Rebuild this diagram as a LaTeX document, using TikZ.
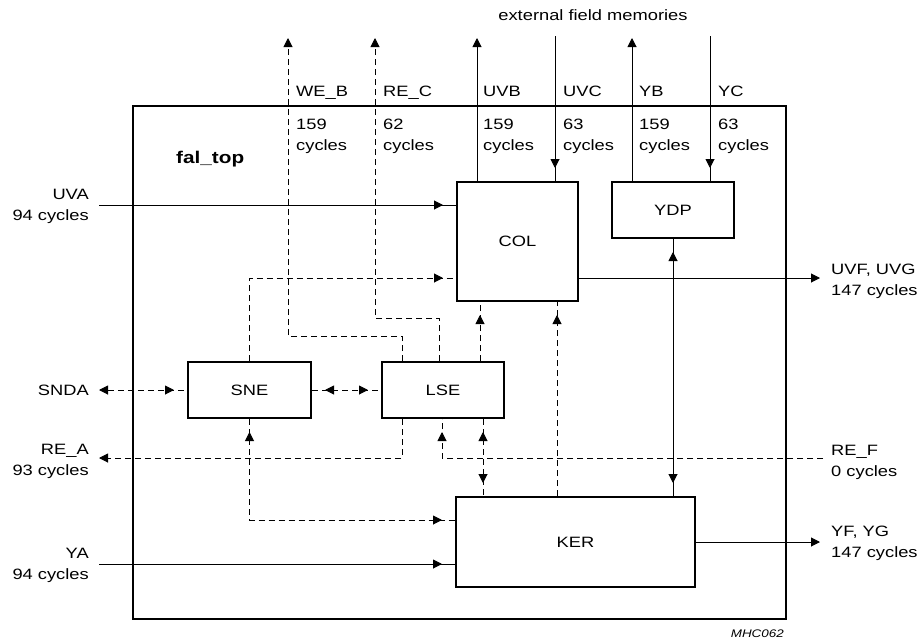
\documentclass[tikz,border=0pt]{standalone}
\usepackage{fontspec}
\setmainfont{Liberation Sans}[FakeStretch=1.22]
\usetikzlibrary{arrows.meta,decorations.markings}
\begin{document}
\begin{tikzpicture}[x=1pt,y=-1pt,
  every node/.style={font=\fontsize{15pt}{21pt}\selectfont, inner sep=0pt},
  blk/.style={draw, line width=2pt, minimum width=#1},
  conn/.style={line width=1pt},
  dsh/.style={line width=1pt, dash pattern=on 6pt off 4pt},
  endarrow/.style={-{Triangle[length=9pt,width=9pt]}},
  startarrow/.style={{Triangle[length=9pt,width=9pt]}-},
  tipend/.style={postaction={decorate,decoration={markings,
     mark=at position -13pt with {\arrow{Triangle[length=9pt,width=9pt]}}}}},
  tipstart/.style={postaction={decorate,decoration={markings,
     mark=at position 13pt with {\arrowreversed{Triangle[length=9pt,width=9pt]}}}}},
  lab/.style={align=left, anchor=base west},
  labr/.style={align=right, anchor=base east}
]
\useasboundingbox (0,0) rectangle (924,643);

% outer frame
\node[blk=653pt, minimum height=513pt] (outer) at (459.5,362.5) {};
\node[font=\fontsize{17pt}{21pt}\selectfont\bfseries, anchor=base west] (title) at (176,163) {fal\_top};

% blocks
\node[blk=121pt, minimum height=119pt] (COL) at (517.5,241.5) {COL};
\node[blk=122pt, minimum height=56pt]  (YDP) at (673,210) {YDP};
\node[blk=123pt, minimum height=56pt]  (SNE) at (249.5,390) {SNE};
\node[blk=122pt, minimum height=56pt]  (LSE) at (443,390) {LSE};
\node[blk=239pt, minimum height=90pt]  (KER) at (575.5,542) {KER};

% free ends / helper coordinates
\coordinate (webtop) at (288,38);
\coordinate (wex) at (402,0);
\coordinate (rectop) at (375,38);
\coordinate (recx) at (439,0);
\coordinate (uvbtop) at (477,38);
\coordinate (uvctop) at (555,36);
\coordinate (ybtop) at (632,38);
\coordinate (yctop) at (710,36);
\coordinate (uvain) at (99,205);
\coordinate (c278) at (0,278);
\coordinate (uvfout) at (820,278);
\coordinate (sndaend) at (99,390);
\coordinate (reaend) at (99,458);
\coordinate (c520) at (0,520);
\coordinate (yain) at (99,564);
\coordinate (refin) at (823,458);
\coordinate (lsex) at (442,0);
\coordinate (c483) at (483,0);
\coordinate (c480) at (480,0);
\coordinate (c557) at (557,0);
\coordinate (yfout) at (820,542);

% top signals
\draw[conn, endarrow] (COL.north -| uvbtop) -- (uvbtop);
\draw[conn, tipend] (uvctop) -- (COL.north -| uvctop);
\draw[conn, endarrow] (YDP.north -| ybtop) -- (ybtop);
\draw[conn, tipend] (yctop) -- (YDP.north -| yctop);
\draw[dsh, endarrow] (LSE.north -| wex) -- ++(0,-25) -| (webtop);
\draw[dsh, endarrow] (LSE.north -| recx) -- ++(0,-43) -| (rectop);

% inputs / internal
\draw[conn, tipend] (uvain) -- (COL.west |- uvain);
\draw[dsh, tipend] (SNE.north) |- (COL.west |- c278);
\draw[conn, endarrow] (COL.east |- uvfout) -- (uvfout);
\draw[dsh, startarrow, tipend] (sndaend) -- (SNE.west);
\draw[dsh, tipstart, tipend] (SNE.east) -- (LSE.west);
\draw[dsh, endarrow] (LSE.south -| wex) |- (reaend);
\draw[dsh, tipstart, tipend] (SNE.south) |- (KER.west |- c520);
\draw[conn, tipend] (yain) -- (KER.west |- yain);
\draw[dsh, tipend] (refin) -| (LSE.south -| lsex);
\draw[dsh, tipstart, tipend] (LSE.south -| c483) -- (KER.north -| c483);
\draw[dsh, tipend] (LSE.north -| c480) -- (COL.south -| c480);
\draw[dsh, tipend] (KER.north -| c557) -- (COL.south -| c557);
\draw[conn, tipstart, tipend] (YDP.south) -- (KER.north -| YDP.south);
\draw[conn, endarrow] (KER.east) -- (yfout);

% labels
\node (ext) at (593,15) {external field memories};
\node[lab] (lweb) at (296,96) {WE\_B};
\node[lab] (lrec) at (383,96) {RE\_C};
\node[lab] (luvb) at (483,96) {UVB};
\node[lab] (luvc) at (563,96) {UVC};
\node[lab] (lyb)  at (639,96) {YB};
\node[lab] (lyc)  at (718,96) {YC};
\node[lab] (cweb) at (296,150) {159\\cycles};
\node[lab] (crec) at (383,150) {62\\cycles};
\node[lab] (cuvb) at (483,150) {159\\cycles};
\node[lab] (cuvc) at (563,150) {63\\cycles};
\node[lab] (cyb)  at (639,150) {159\\cycles};
\node[lab] (cyc)  at (718,150) {63\\cycles};

\node[labr] (luva) at (89,220) {UVA\\94 cycles};
\node[anchor=east] (lsnda) at (89,390) {SNDA};
\node[labr] (lrea) at (89,475) {RE\_A\\93 cycles};
\node[labr] (lya) at (89,579) {YA\\94 cycles};
\node[lab] (luvf) at (831,295) {UVF, UVG\\147 cycles};
\node[lab] (lref) at (831,476) {RE\_F\\0 cycles};
\node[lab] (lyf) at (831,557) {YF, YG\\147 cycles};
\node[font=\fontsize{11pt}{13pt}\selectfont\itshape, anchor=base east] (mhc) at (784,637) {MHC062};
\end{tikzpicture}
\end{document}
